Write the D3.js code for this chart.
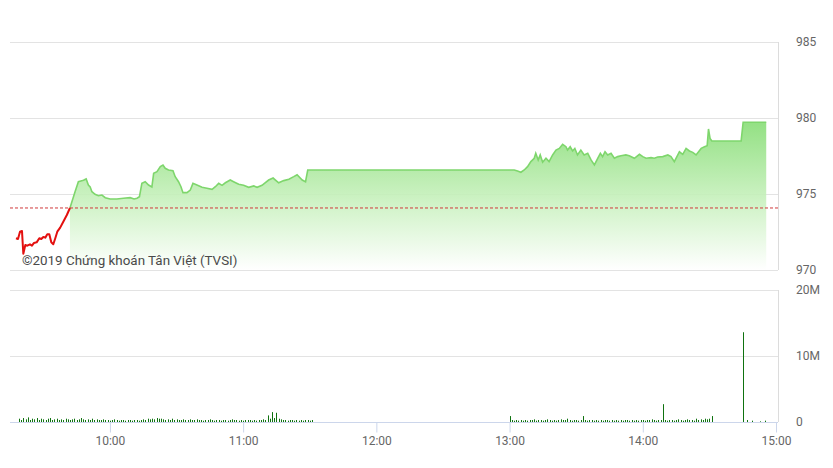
<!DOCTYPE html>
<html><head><meta charset="utf-8">
<script src="https://cdn.jsdelivr.net/npm/d3@7"></script>
<style>
html,body{margin:0;padding:0;background:#fff;}
svg{display:block;font-family:Roboto,"Noto Sans",sans-serif;}
</style></head>
<body><svg id="chart" width="833" height="468"></svg>
<script>
// ---- data ----
const refPrice = 974.08;
const priceTimes = ["09:17:42","09:18:36","09:19:30","09:20:24","09:21:00","09:21:54","09:22:48","09:24:00","09:24:54","09:25:48",
"09:27:00","09:28:12","09:29:06","09:30:00","09:30:54","09:31:48","09:32:42","09:33:36","09:34:30","09:35:24",
"09:36:18","09:37:36","09:39:00","09:40:36","09:42:00","09:44:18","09:45:48","09:46:54","09:48:06","09:49:18",
"09:50:18","09:51:06","09:51:54","09:53:18","09:54:48","09:56:24","09:57:54","10:00:06","10:03:06","10:06:06",
"10:09:06","10:10:54","10:12:12","10:13:18","10:14:24","10:15:54","10:17:24","10:18:54","10:19:42","10:21:12",
"10:22:42","10:23:54","10:24:54","10:26:24","10:28:24","10:29:24","10:30:54","10:32:00","10:32:54","10:34:42",
"10:36:12","10:37:24","10:39:12","10:41:30","10:43:42","10:46:00","10:47:30","10:49:00","10:50:30","10:52:00",
"10:54:12","10:55:42","10:58:00","11:00:12","11:02:30","11:04:48","11:06:18","11:08:30","11:11:30","11:13:30",
"11:16:00","11:18:18","11:20:36","11:22:48","11:24:18","11:26:36","11:28:06","11:29:06","13:02:06","13:03:36",
"13:05:06","13:06:36","13:08:06","13:09:36","13:11:06","13:11:48","13:12:54","13:13:48","13:14:54","13:16:24",
"13:17:48","13:19:24","13:20:54","13:22:24","13:23:54","13:25:24","13:26:06","13:27:18","13:28:24","13:29:24",
"13:30:36","13:32:06","13:33:36","13:35:12","13:36:42","13:38:12","13:39:42","13:40:54","13:41:54","13:43:00",
"13:44:12","13:45:42","13:47:12","13:48:42","13:50:12","13:52:24","13:53:54","13:56:12","13:58:30","14:00:00",
"14:01:30","14:03:42","14:05:12","14:06:42","14:09:00","14:11:18","14:12:42","14:14:12","14:16:30","14:18:00",
"14:19:30","14:21:00","14:22:30","14:24:00","14:26:18","14:27:48","14:29:00","14:29:36","14:30:18","14:31:06",
"14:44:18","14:45:12","14:55:36"];
const priceValues = [972.09,972.04,972.52,972.57,971.07,971.64,971.60,971.69,971.60,971.78,
971.82,972.09,972.04,972.17,972.13,972.35,972.35,971.82,971.69,972.09,
972.52,972.79,973.18,973.62,974.08,975.15,975.81,975.86,975.90,975.99,
975.59,975.46,975.15,974.98,974.89,974.93,974.76,974.67,974.67,974.72,
974.76,974.67,974.72,974.82,975.70,975.81,975.59,975.46,976.36,976.47,
976.80,976.91,976.69,976.58,976.53,976.14,975.81,975.48,975.09,975.09,
975.26,975.70,975.59,975.44,975.38,975.31,975.48,975.70,975.57,975.74,
975.92,975.81,975.64,975.57,975.44,975.53,975.44,975.57,975.92,976.05,
975.74,975.88,975.97,976.14,976.27,975.92,975.81,976.58,976.58,976.51,
976.43,976.58,976.80,977.13,977.35,977.68,977.24,977.57,977.09,977.35,
977.13,977.57,977.89,978.00,978.27,978.11,977.89,978.11,977.83,978.00,
977.57,977.89,977.57,977.68,977.24,976.91,977.35,977.68,977.46,977.78,
977.57,977.68,977.35,977.46,977.52,977.57,977.52,977.35,977.61,977.46,
977.35,977.39,977.35,977.43,977.46,977.57,977.46,977.13,977.78,977.61,
978.00,977.83,977.74,977.57,978.00,978.11,978.18,979.28,978.66,978.49,
978.49,979.72,979.72];

// volume (millions of shares), one bar per minute
const volMorningStart = "09:19";
const volMorning = [0.5,0.3,0.6,0.4,0.7,0.3,0.5,0.4,0.6,0.3,
0.5,0.4,0.3,0.5,0.6,0.3,0.4,0.5,0.3,0.4,
0.3,0.5,0.4,0.3,0.4,0.5,0.3,0.4,0.6,0.4,
0.3,0.4,0.3,0.5,0.3,0.4,0.3,0.3,0.4,0.3,
0.3,0.2,0.3,0.4,0.3,0.2,0.3,0.3,0.2,0.3,
0.3,0.2,0.3,0.3,0.2,0.3,0.4,0.3,0.5,0.4,
0.5,0.4,0.6,0.5,0.5,0.4,0.3,0.4,0.3,0.5,
0.3,0.4,0.3,0.3,0.4,0.3,0.3,0.4,0.3,0.3,
0.4,0.3,0.3,0.2,0.3,0.3,0.4,0.3,0.2,0.3,
0.3,0.2,0.3,0.3,0.2,0.3,0.4,0.3,0.3,0.2,
0.3,0.2,0.3,0.3,0.3,0.2,0.3,0.2,0.3,0.3,
0.4,0.3,1.0,0.5,1.5,0.6,1.4,0.5,0.4,0.3,
0.3,0.2,0.3,0.3,0.2,0.3,0.2,0.3,0.2,0.3,
0.3,0.2,0.3];
const volAfternoonStart = "13:00";
const volAfternoon = [0.9,0.3,0.2,0.3,0.2,0.3,0.2,0.3,0.2,0.3,
0.3,0.4,0.2,0.3,0.3,0.2,0.3,0.4,0.3,0.2,
0.3,0.2,0.3,0.4,0.3,0.3,0.5,0.3,0.2,0.3,
0.3,0.2,0.3,0.9,0.3,0.2,0.3,0.3,0.2,0.3,
0.2,0.3,0.2,0.3,0.3,0.2,0.3,0.2,0.3,0.2,
0.3,0.2,0.3,0.3,0.2,0.3,0.2,0.3,0.2,0.3,
0.3,0.2,0.3,0.3,0.4,0.3,0.2,0.3,0.3,2.7,
0.3,0.2,0.3,0.3,0.2,0.3,0.4,0.3,0.2,0.3,
0.4,0.3,0.3,0.2,0.5,0.3,0.4,0.3,0.5,0.4,
0.5,0.9];
const volCloseTimes = ["14:45","14:47","14:49","14:53","14:55"];
const volCloseValues = [13.6,0.3,0.2,0.1,0.2];

const priceTicks = [970,975,980,985];
const volTicks = [0,10,20];
const volTickLabels = ["0","10M","20M"];
const timeTicks = ["10:00","11:00","12:00","13:00","14:00","15:00"];
const xDomain = ["09:15","15:00"];
const priceDomain = [970,985];
const volDomain = [0,20];
const copyright = "©2019 Chứng khoán Tân Việt (TVSI)";

// ---- drawing ----
const parseS = d3.timeParse("%H:%M:%S");
const parseM = d3.timeParse("%H:%M");
const svg = d3.select("#chart");

const x = d3.scaleTime().domain(xDomain.map(parseM)).range([10, 776]);
const yP = d3.scaleLinear().domain(priceDomain).range([270, 42]);
const yV = d3.scaleLinear().domain(volDomain).range([422, 290]);
const plotL = 10, plotR = 778;

const price = priceTimes.map((t,i)=>({t:parseS(t), v:priceValues[i]}));
let cross = price.findIndex(d=>d.v >= refPrice);
const redPts = price.slice(0, cross+1);
const greenPts = price.slice(cross);

const vols = [];
const addRun = (start, arr) => { const s = parseM(start); arr.forEach((v,i)=>vols.push({t:d3.timeMinute.offset(s,i), v})); };
addRun(volMorningStart, volMorning);
addRun(volAfternoonStart, volAfternoon);
volCloseTimes.forEach((t,i)=>vols.push({t:parseM(t), v:volCloseValues[i]}));

// gradient
const defs = svg.append("defs");
const grad = defs.append("linearGradient").attr("id","g").attr("gradientUnits","userSpaceOnUse")
  .attr("x1",0).attr("x2",0).attr("y1",yP(980)).attr("y2",yP(970));
grad.append("stop").attr("offset",0).attr("stop-color","#84dc72");
grad.append("stop").attr("offset",0.55).attr("stop-color","#c9f1bf");
grad.append("stop").attr("offset",1).attr("stop-color","#ffffff");

// price gridlines
svg.append("g").selectAll("line").data(priceTicks).join("line")
  .attr("x1",plotL).attr("x2",plotR).attr("y1",d=>Math.round(yP(d))+0.5).attr("y2",d=>Math.round(yP(d))+0.5)
  .attr("stroke","#e3e3e3");
svg.append("line").attr("x1",plotR+0.5).attr("x2",plotR+0.5).attr("y1",yP(985)).attr("y2",yP(970))
  .attr("stroke","#dcdcdc");

// area + green line
const area = d3.area().x(d=>x(d.t)).y0(yP(970)).y1(d=>yP(d.v));
svg.append("path").datum(greenPts).attr("d",area).attr("fill","url(#g)").attr("opacity",0.9);
svg.append("path").datum(greenPts).attr("d",d3.line().x(d=>x(d.t)).y(d=>yP(d.v)))
  .attr("fill","none").attr("stroke","#7ed66c").attr("stroke-width",1.6);

// reference line
svg.append("line").attr("x1",plotL).attr("x2",plotR).attr("y1",yP(refPrice)).attr("y2",yP(refPrice))
  .attr("stroke","#d0393b").attr("stroke-width",1).attr("stroke-dasharray","3,2");

// red line
svg.append("path").datum(redPts).attr("d",d3.line().x(d=>x(d.t)).y(d=>yP(d.v)))
  .attr("fill","none").attr("stroke","#e3100f").attr("stroke-width",2).attr("stroke-linejoin","round");

// copyright
svg.append("text").attr("x",22).attr("y",265).attr("font-size",13.4).attr("fill","#4a4a4a").text(copyright);

// price axis labels (right)
const ax1 = svg.append("g").attr("transform",`translate(${plotR},0)`)
  .call(d3.axisRight(yP).tickValues(priceTicks).tickSize(0).tickPadding(18));
ax1.select(".domain").remove();
ax1.selectAll("text").attr("font-size",12).attr("fill","#666").attr("font-family","Roboto");

// volume gridlines
svg.append("g").selectAll("line").data(volTicks.slice(1)).join("line")
  .attr("x1",plotL).attr("x2",plotR).attr("y1",d=>Math.round(yV(d))+0.5).attr("y2",d=>Math.round(yV(d))+0.5)
  .attr("stroke","#e3e3e3");
svg.append("line").attr("x1",plotR+0.5).attr("x2",plotR+0.5).attr("y1",yV(20)).attr("y2",yV(0))
  .attr("stroke","#dcdcdc");

// volume bars
svg.append("g").selectAll("rect").data(vols).join("rect")
  .attr("x",d=>Math.round(x(d.t))).attr("width",1)
  .attr("y",d=>yV(d.v)).attr("height",d=>yV(0)-yV(d.v))
  .attr("fill","#0f720f");

// volume axis labels
const ax2 = svg.append("g").attr("transform",`translate(${plotR},0)`)
  .call(d3.axisRight(yV).tickValues(volTicks).tickSize(0).tickPadding(18).tickFormat((d,i)=>volTickLabels[i]));
ax2.select(".domain").remove();
ax2.selectAll("text").attr("font-size",12).attr("fill","#666").attr("font-family","Roboto");

// x axis
const ax3 = svg.append("g").attr("transform",`translate(0,${Math.round(yV(0))+0.5})`)
  .call(d3.axisBottom(x).tickValues(timeTicks.map(parseM)).tickFormat(d3.timeFormat("%H:%M")).tickSize(10).tickPadding(4).tickSizeOuter(0));
ax3.select(".domain").attr("d",`M${plotL},0H${plotR}`).attr("stroke","#ccd6eb");
ax3.selectAll(".tick line").attr("stroke","#ccd6eb");
ax3.selectAll("text").attr("font-size",12).attr("fill","#666").attr("font-family","Roboto");
</script></body></html>
